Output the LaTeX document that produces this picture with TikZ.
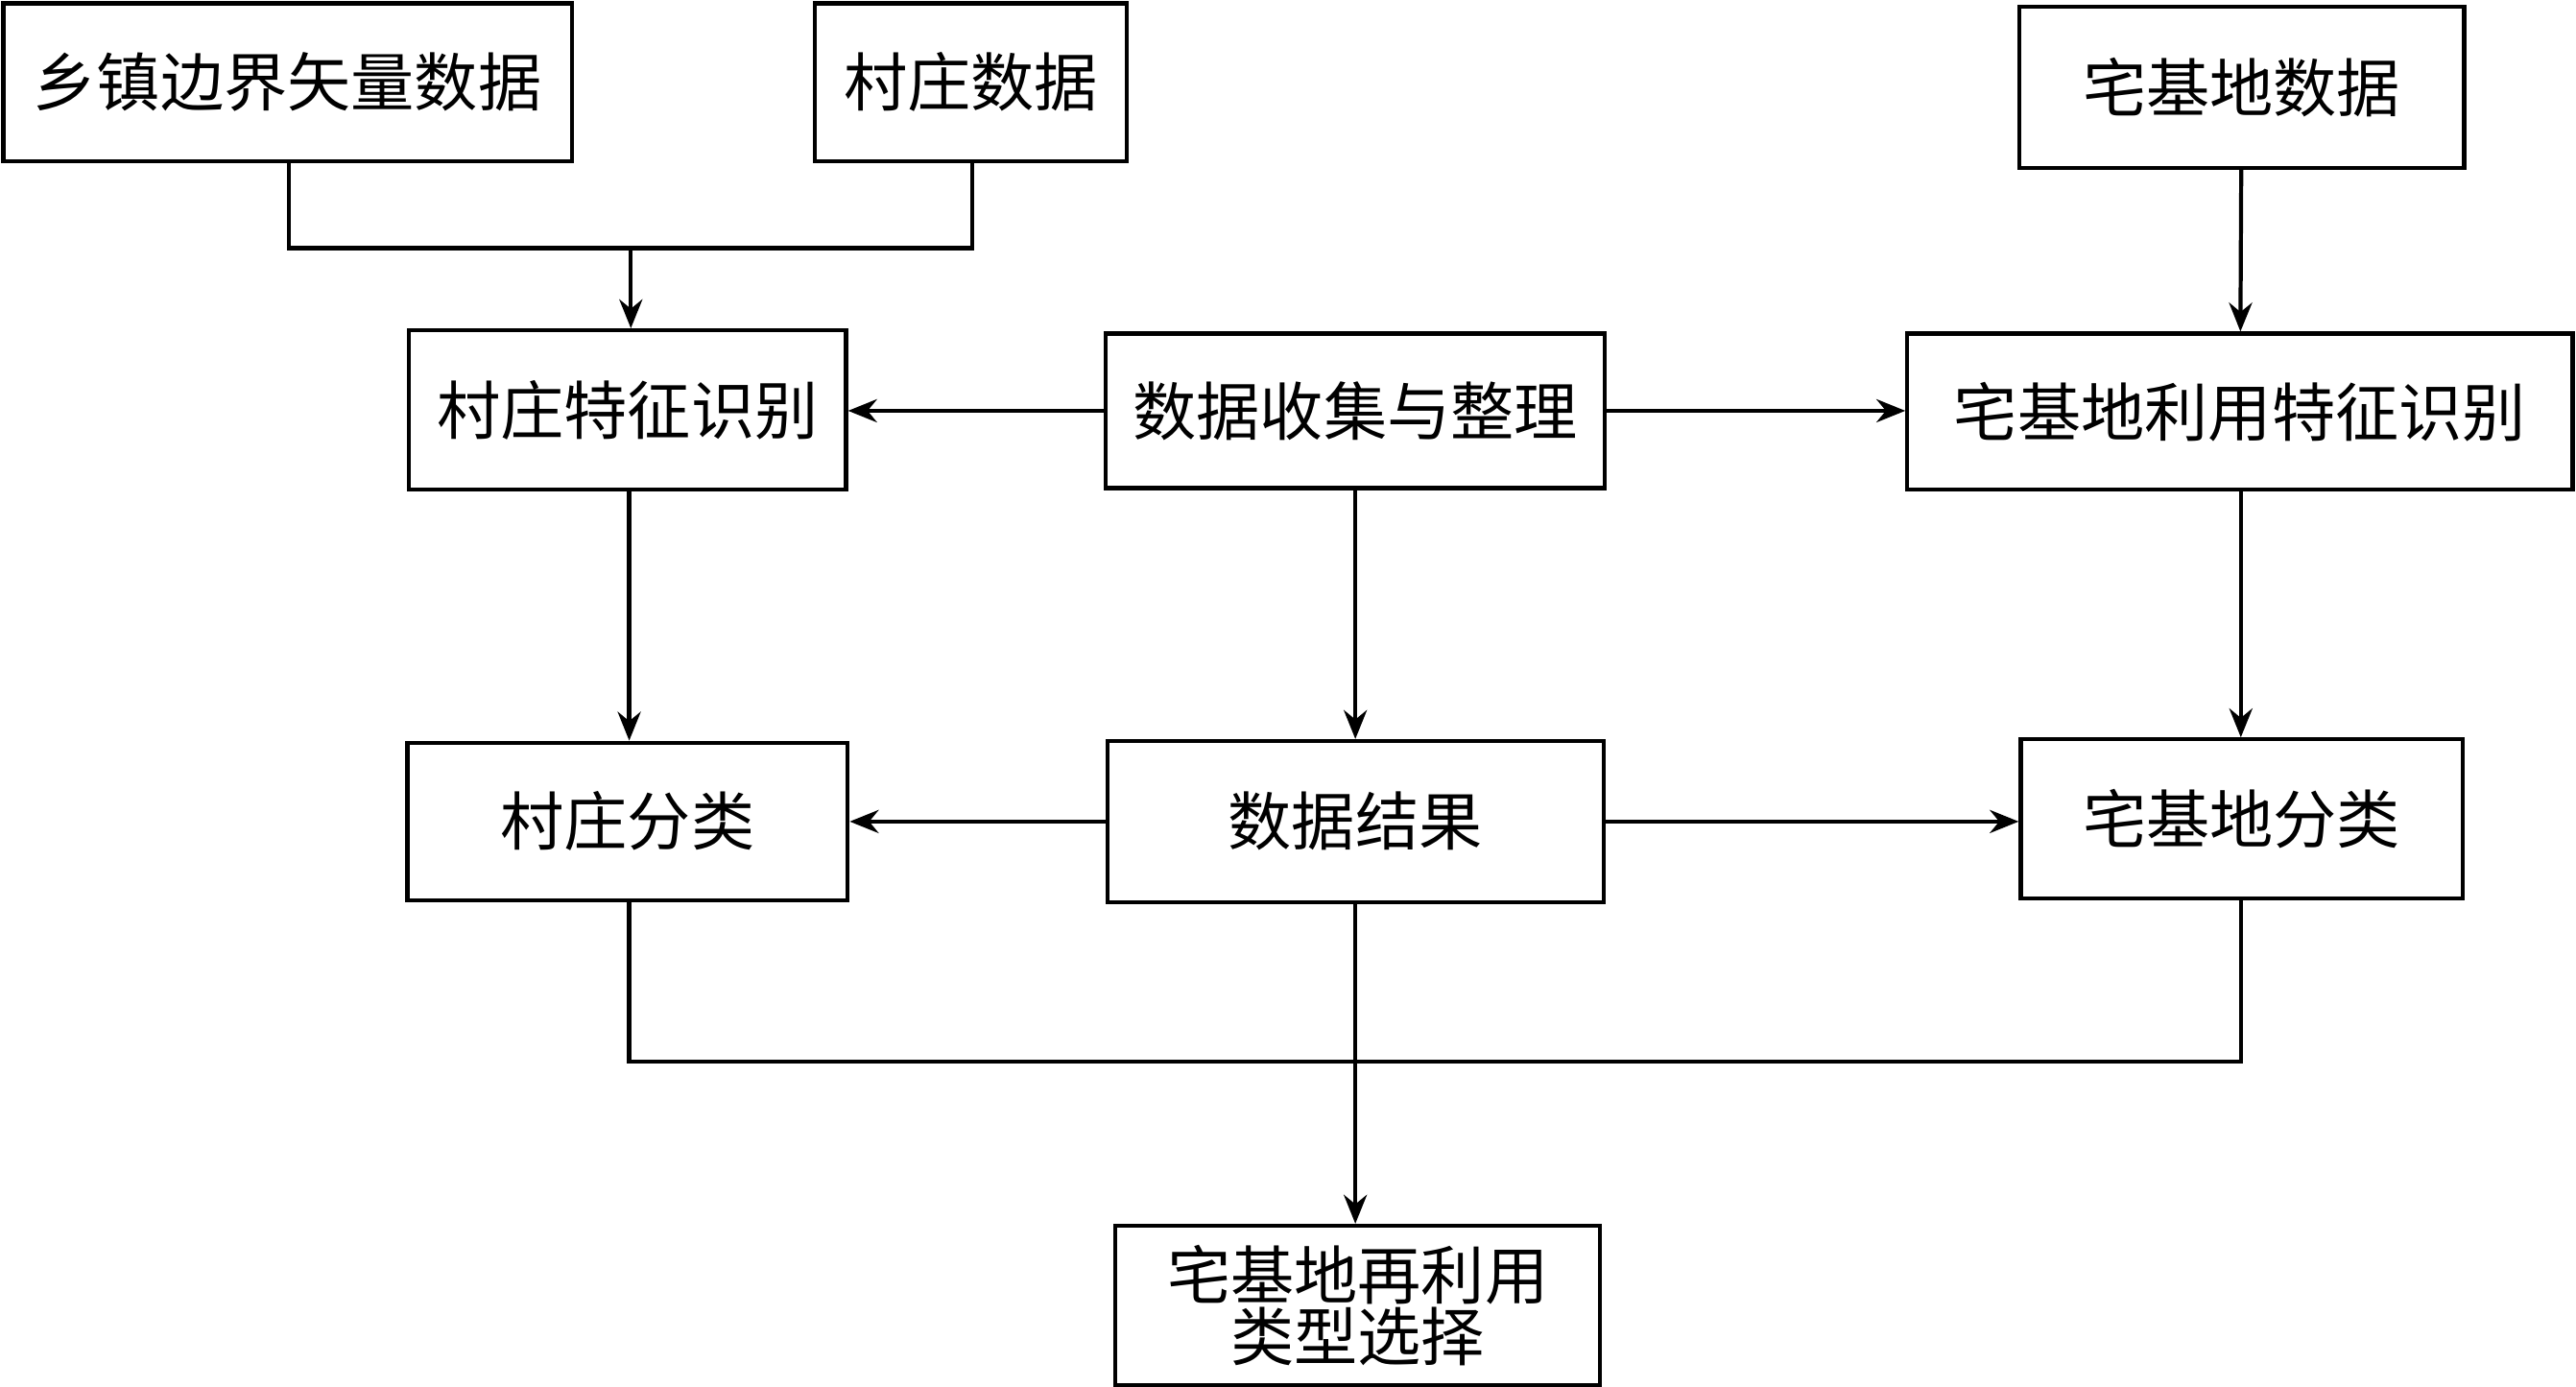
\documentclass[tikz,border=0pt]{standalone}
\usepackage{fontspec}
\newfontfamily\cjk{Noto Sans CJK SC}
\usetikzlibrary{arrows.meta}
\begin{document}
\begin{tikzpicture}[x=0.01cm,y=-0.01cm,
 bx/.style={draw,line width=0.7pt,inner sep=0pt,align=center,font=\cjk\fontsize{11}{12.5}\selectfont},
 ln/.style={line width=0.7pt},
 ar/.style={ln,-{Stealth[length=5pt,width=4pt]}}]
\useasboundingbox (0,0) rectangle (1568,844);
\newcommand{\bx}[6]{\node[bx,minimum width={(#4-#2)*0.01cm},minimum height={(#5-#3)*0.01cm}] (#1) at ({(#2+#4)/2},{(#3+#5)/2}) {#6};}
\bx{A}{2}{2}{348}{98}{乡镇边界矢量数据}
\bx{B}{496}{2}{686}{98}{村庄数据}
\bx{C}{1229}{4}{1500}{102}{宅基地数据}
\bx{D}{249}{201}{515}{298}{村庄特征识别}
\bx{E}{673}{203}{977}{297}{数据收集与整理}
\bx{F}{1161}{203}{1566}{298}{宅基地利用特征识别}
\bx{G}{248}{452}{516}{548}{村庄分类}
\bx{H}{674}{451}{976}{549}{数据结果}
\bx{I}{1230}{450}{1499}{547}{宅基地分类}
\bx{J}{679}{746}{974}{843}{宅基地再利用\\[-2pt]类型选择}
\coordinate (m1) at (384,151);
\draw[ln] (A.south -| 176,0) |- (m1) -| (B.south -| 592,0);
\draw[ar] (m1) -- (D.north -| m1);
\draw[ar] (C) -- (F);
\draw[ar] (E.west) -- (D.east |- E.west);
\draw[ar] (E.east) -- (F.west |- E.east);
\draw[ar] (E) -- (H);
\draw[ar] (D.south -| 383,0) -- (G.north -| 383,0);
\draw[ar] (F.south -| 1364,0) -- (I.north -| 1364,0);
\draw[ar] (H.west) -- (G.east |- H.west);
\draw[ar] (H.east) -- (I.west |- H.east);
\draw[ln] (G.south -| 383,0) |- (1364,646) -- (I.south -| 1364,0);
\draw[ar] (H.south -| 825,0) -- (J.north -| 825,0);
\end{tikzpicture}
\end{document}
